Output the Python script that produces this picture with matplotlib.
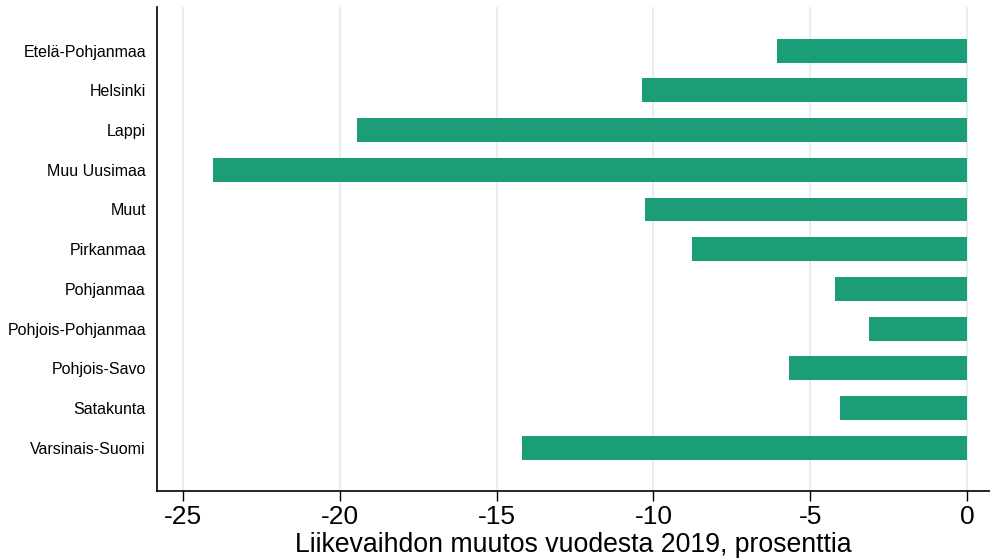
import matplotlib
matplotlib.use("Agg")
import matplotlib.pyplot as plt

plt.rcParams['font.family'] = ['Liberation Sans', 'DejaVu Sans']

regions = ["Etelä-Pohjanmaa", "Helsinki", "Lappi", "Muu Uusimaa", "Muut", "Pirkanmaa",
           "Pohjanmaa", "Pohjois-Pohjanmaa", "Pohjois-Savo", "Satakunta", "Varsinais-Suomi"]
change = [-6.06, -10.36, -19.45, -24.04, -10.27, -8.77, -4.21, -3.13, -5.68, -4.05, -14.19]
xticks = [-25, -20, -15, -10, -5, 0]
xlabel = "Liikevaihdon muutos vuodesta 2019, prosenttia"

fig = plt.figure(figsize=(9.9, 5.6), dpi=100)
ax = fig.add_axes([157/990, 69/560, (990-157)/990, (491-7)/560])

pos = list(range(len(regions)))
ax.barh(pos, change, height=0.6, color="#1b9e77", zorder=3)
ax.set_ylim(len(regions) - 1 + 1.09, -1.1)
ax.set_xlim(-25.83, 0.73)
ax.set_yticks(pos)
ax.set_yticklabels(regions, fontsize=11.5)
ax.tick_params(axis='y', length=0, pad=8)
ax.set_xticks(xticks)
ax.set_xticklabels([str(t) for t in xticks], fontsize=19)
ax.tick_params(axis='x', length=7, width=1, pad=3)
ax.set_xlabel(xlabel, fontsize=19.2, labelpad=2.5)
ax.grid(axis='x', color="#e6eef0", linewidth=1.5, zorder=0)
for s in ['top', 'right']:
    ax.spines[s].set_visible(False)
for s in ['left', 'bottom']:
    ax.spines[s].set_linewidth(1.2)

fig.savefig("out.png", dpi=100)
